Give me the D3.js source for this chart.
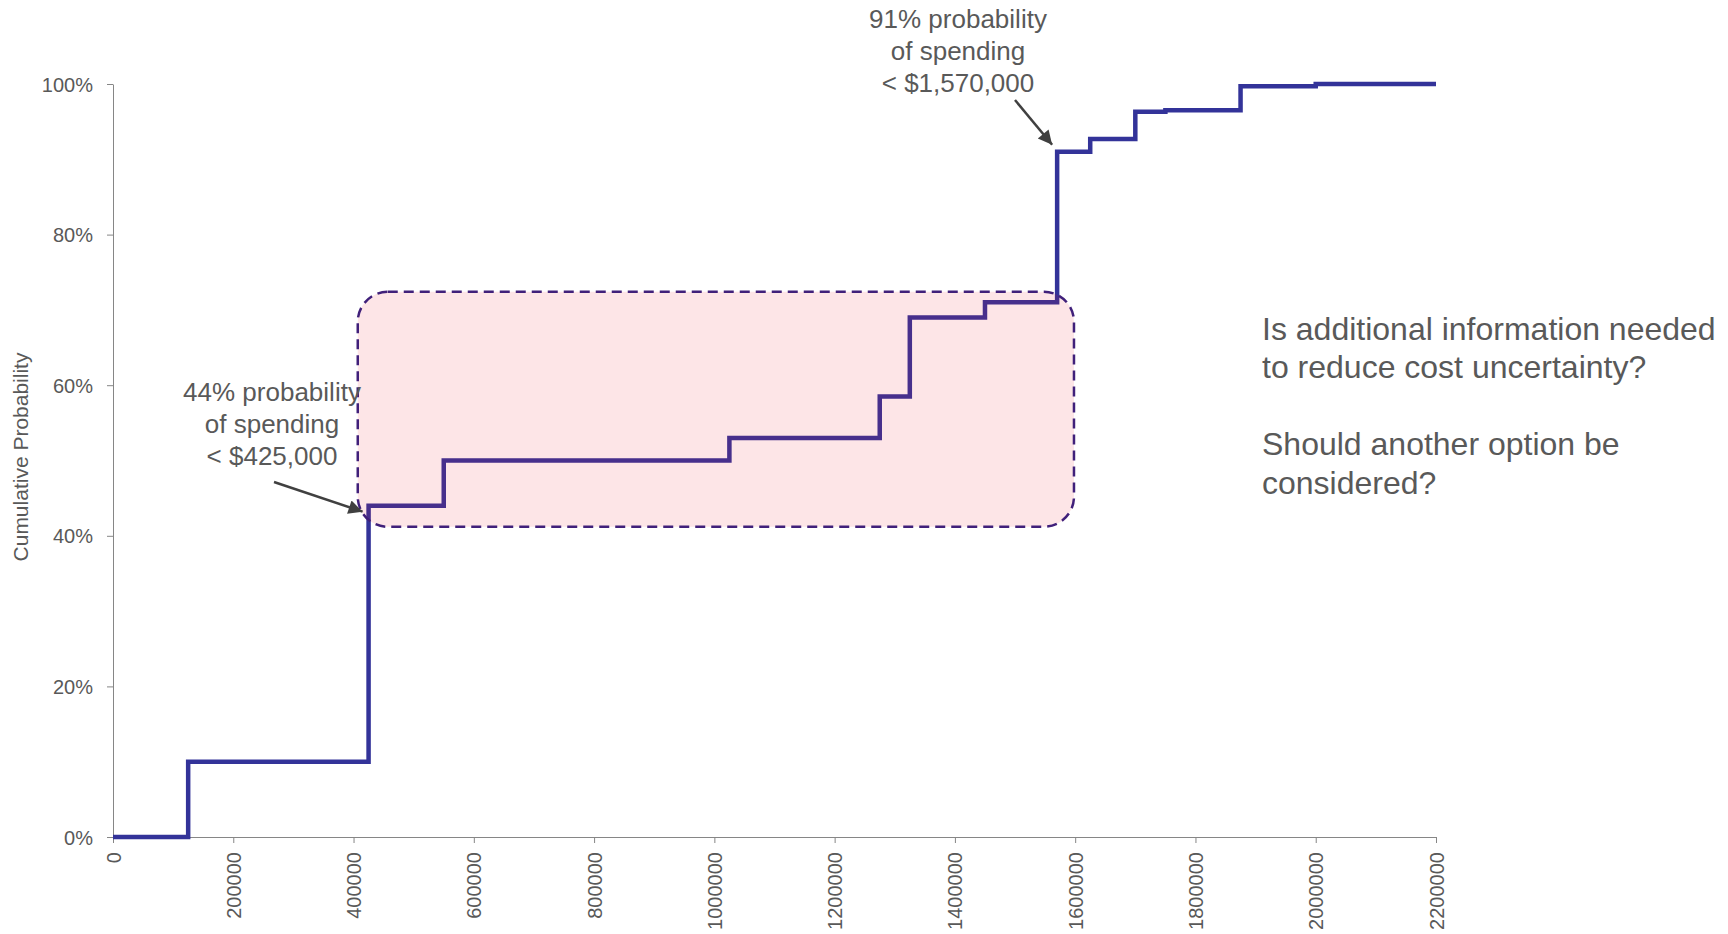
<!DOCTYPE html>
<html>
<head>
<meta charset="utf-8">
<script src="https://cdn.jsdelivr.net/npm/d3@7"></script>
<style>
  html, body { margin: 0; padding: 0; background: #ffffff; }
  svg { display: block; font-family: "Liberation Sans", Arial, sans-serif; }
</style>
</head>
<body>
<svg id="chart" width="1728" height="934"></svg>
<script>
// Cost breakpoints (USD) and the cumulative probability reached at each one
const costBreaks = [0, 125000, 425000, 550000, 1025000, 1275000, 1325000, 1450000,
                    1570000, 1625000, 1700000, 1750000, 1875000, 2000000, 2200000];
const cumProb    = [0, 0.10, 0.44, 0.50, 0.53, 0.585, 0.69, 0.71,
                    0.91, 0.927, 0.963, 0.965, 0.997, 1.00, 1.00];

const xTicks = [0, 200000, 400000, 600000, 800000, 1000000, 1200000,
                1400000, 1600000, 1800000, 2000000, 2200000];
const yTicks = [0, 0.2, 0.4, 0.6, 0.8, 1.0];

const yTitle = "Cumulative Probability";
const lowNote  = ["44% probability", "of spending", "< $425,000"];
const highNote = ["91% probability", "of spending", "< $1,570,000"];
const sideNote = ["Is additional information needed", "to reduce cost uncertainty?", "",
                  "Should another option be", "considered?"];

// Highlighted uncertainty band (cost range, probability range)
const bandCost = [407000, 1598000];
const bandProb = [0.412, 0.724];

const svg = d3.select("#chart");
const plot = { left: 113, right: 1436, top: 84, bottom: 837 };
const textColor = "#595959";
const axisColor = "#868686";

const x = d3.scaleLinear().domain([0, 2200000]).range([plot.left, plot.right]);
const y = d3.scaleLinear().domain([0, 1]).range([plot.bottom, plot.top]);

// Y axis
const yAxis = svg.append("g")
  .attr("transform", `translate(${plot.left},0)`)
  .call(d3.axisLeft(y).tickValues(yTicks).tickFormat(d3.format(".0%"))
        .tickSizeInner(6).tickSizeOuter(0).tickPadding(14));
yAxis.select(".domain").attr("stroke", axisColor);
yAxis.selectAll(".tick line").attr("stroke", axisColor);
yAxis.selectAll(".tick text")
  .attr("fill", textColor).attr("font-size", 20).attr("dy", "0.35em")
  .style("font-family", "Liberation Sans, Arial, sans-serif");

// X axis with vertical labels
const xAxis = svg.append("g")
  .attr("transform", `translate(0,${plot.bottom})`)
  .call(d3.axisBottom(x).tickValues(xTicks).tickFormat(d => String(d))
        .tickSizeInner(6).tickSizeOuter(0));
xAxis.select(".domain").attr("stroke", axisColor);
xAxis.selectAll(".tick line").attr("stroke", axisColor);
xAxis.selectAll(".tick text")
  .attr("fill", textColor).attr("font-size", 20)
  .attr("x", 0).attr("y", 0).attr("dy", "0.35em")
  .attr("text-anchor", "end")
  .attr("transform", "translate(0,15) rotate(-90)")
  .style("font-family", "Liberation Sans, Arial, sans-serif");

// Y axis title
svg.append("text")
  .attr("transform", "translate(28,457) rotate(-90)")
  .attr("text-anchor", "middle")
  .attr("font-size", 21)
  .attr("fill", textColor)
  .text(yTitle);

// Cumulative step curve
const points = costBreaks.map((c, i) => [c, cumProb[i]]);
const stepLine = d3.line()
  .x(d => x(d[0])).y(d => y(d[1]))
  .curve(d3.curveStepAfter);
svg.append("path")
  .datum(points)
  .attr("d", stepLine)
  .attr("fill", "none")
  .attr("stroke", "#333399")
  .attr("stroke-width", 4.5)
  .attr("stroke-linejoin", "miter");

// Highlight band over the middle of the curve
svg.append("rect")
  .attr("x", x(bandCost[0]))
  .attr("y", y(bandProb[1]))
  .attr("width", x(bandCost[1]) - x(bandCost[0]))
  .attr("height", y(bandProb[0]) - y(bandProb[1]))
  .attr("rx", 30).attr("ry", 30)
  .attr("fill", "rgb(235,20,40)")
  .attr("fill-opacity", 0.11)
  .attr("stroke", "#40207a")
  .attr("stroke-width", 2.5)
  .attr("stroke-dasharray", "10,6");

// Arrow heads
svg.append("defs").append("marker")
  .attr("id", "arrow")
  .attr("viewBox", "0 0 10 10")
  .attr("refX", 10).attr("refY", 5)
  .attr("markerUnits", "userSpaceOnUse")
  .attr("markerWidth", 17).attr("markerHeight", 14)
  .attr("orient", "auto")
  .append("path")
  .attr("d", "M0,0 L10,5 L0,10 Z")
  .attr("fill", "#404040");

function note(lines, cx, firstBaseline, lineGap) {
  const t = svg.append("text")
    .attr("text-anchor", "middle")
    .attr("font-size", 26)
    .attr("fill", textColor);
  lines.forEach((s, i) => {
    t.append("tspan").attr("x", cx).attr("y", firstBaseline + i * lineGap).text(s);
  });
}

function arrow(x1, y1, x2, y2) {
  svg.append("line")
    .attr("x1", x1).attr("y1", y1).attr("x2", x2).attr("y2", y2)
    .attr("stroke", "#404040").attr("stroke-width", 2.5)
    .attr("marker-end", "url(#arrow)");
}

// 44% callout
note(lowNote, 272, 401, 32);
arrow(274, 482, x(425000) - 6, y(0.44) + 6);

// 91% callout
note(highNote, 958, 28, 32);
arrow(1015, 100, x(1570000) - 5, y(0.91) - 7);

// Side questions
const side = svg.append("text")
  .attr("font-size", 32)
  .attr("fill", textColor);
sideNote.forEach((s, i) => {
  side.append("tspan").attr("x", 1262).attr("y", 340 + i * 38.4).text(s);
});
</script>
</body>
</html>
